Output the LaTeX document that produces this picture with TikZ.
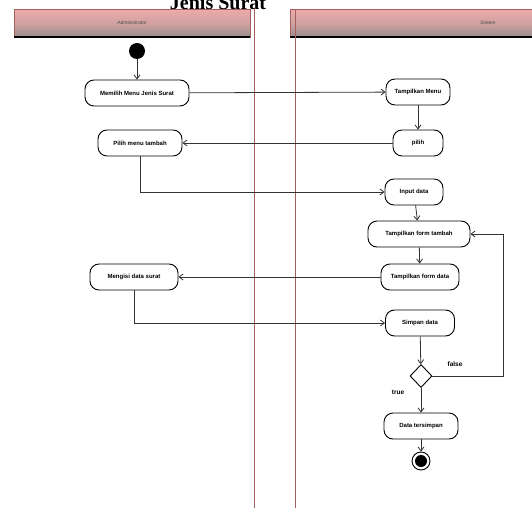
\documentclass[tikz,border=0pt]{standalone}
\usepackage{fontspec}
\setmainfont{Liberation Serif}
\newfontfamily\lanefont{Liberation Sans}
\usetikzlibrary{shapes.geometric,arrows.meta}
\definecolor{laneline}{RGB}{165,95,95}
\definecolor{headtop}{RGB}{235,170,170}
\definecolor{headbot}{RGB}{150,140,140}
\tikzset{
  act/.style={draw=black, line width=0.9pt, fill=white, rounded corners=9pt,
    minimum height=26pt, inner xsep=4pt, font=\lanefont\bfseries\fontsize{6}{7}\selectfont},
  flow/.style={draw=black!80, line width=0.8pt, -{Straight Barb[length=4pt,width=6pt]}},
  lanehead/.style={draw=laneline, line width=0.8pt, top color=headtop, bottom color=headbot,
    middle color=headtop!70!headbot},
  lanetxt/.style={font=\lanefont\fontsize{5}{6}\selectfont, text=black!70},
  guard/.style={font=\lanefont\bfseries\fontsize{6.5}{7}\selectfont}
}
\begin{document}
\begin{tikzpicture}[x=1pt,y=-1pt]
\useasboundingbox (0,0) rectangle (532,510);
% title
\node[font=\bfseries\fontsize{20}{22}\selectfont, anchor=base] (title) at (218,10) {Jenis Surat};
% swimlanes
\node[lanehead, minimum width=236pt, minimum height=28pt, anchor=north west, inner sep=0pt] (h1) at (14,9) {};
\node[lanetxt] (h1t) at (132,23) {Administrator};
\node[lanehead, minimum width=260pt, minimum height=28pt, anchor=north west, inner sep=0pt] (h2) at (290,9) {};
\node[lanetxt] (h2t) at (488,23) {Sistem};
\draw[black, line width=1.5pt] (14,37) -- (250,37);
\draw[black, line width=1.5pt] (290,37) -- (540,37);
\draw[laneline, line width=0.8pt] (254,9) -- (254,508);
\draw[laneline, line width=0.8pt] (295,9) -- (295,508);
% nodes
\node[circle, fill=black, minimum size=16pt, inner sep=0pt] (start) at (137,51) {};
\node[act, minimum width=104pt] (l1) at (137,93) {Memilih Menu Jenis Surat};
\node[act, minimum width=64pt] (r1) at (418,92) {Tampilkan Menu};
\node[act, minimum width=50pt] (r2) at (418,143) {pilih};
\node[act, minimum width=84pt] (l2) at (140,143) {Pilih menu tambah};
\node[act, minimum width=58pt] (r3) at (414,192) {Input data};
\node[act, minimum width=102pt] (r4) at (419,234) {Tampilkan form tambah};
\node[act, minimum width=78pt] (r5) at (420,277) {Tampilkan form data};
\node[act, minimum width=88pt] (l3) at (134,277) {Mengisi data surat};
\node[act, minimum width=69pt] (r6) at (420,323) {Simpan data};
\node[diamond, draw=black, line width=0.9pt, fill=white, minimum width=22pt, minimum height=23pt, inner sep=0pt] (d) at (421,376) {};
\node[act, minimum width=74pt] (r7) at (421,426) {Data tersimpan};
\node[circle, draw=black, line width=0.9pt, minimum size=18pt, inner sep=0pt] (end) at (421,461) {};
\node[circle, fill=black, minimum size=12pt, inner sep=0pt] (endin) at (end) {};
% guards
\node[guard] (gf) at (455,364) {false};
\node[guard] (gt) at (398,392) {true};
% flows
\draw[flow] (start) -- (l1);
\draw[flow] (l1) -- (r1);
\draw[flow] (r1) -- (r2);
\draw[flow] (r2) -- (l2);
\draw[flow] (l2.south) -- (l2.south |- r3) -- (r3);
\draw[flow] (r3) -- (r4);
\draw[flow] (r4) -- (r5);
\draw[flow] (r5) -- (l3);
\draw[flow] (l3.south) -- (l3.south |- r6) -- (r6);
\draw[flow] (r6) -- (d);
\coordinate (loop) at (503,376);
\draw[flow] (d.east) -- (loop) -- (loop |- r4) -- (r4.east);
\draw[flow] (d) -- (r7);
\draw[flow] (r7) -- (end);
\end{tikzpicture}
\end{document}
